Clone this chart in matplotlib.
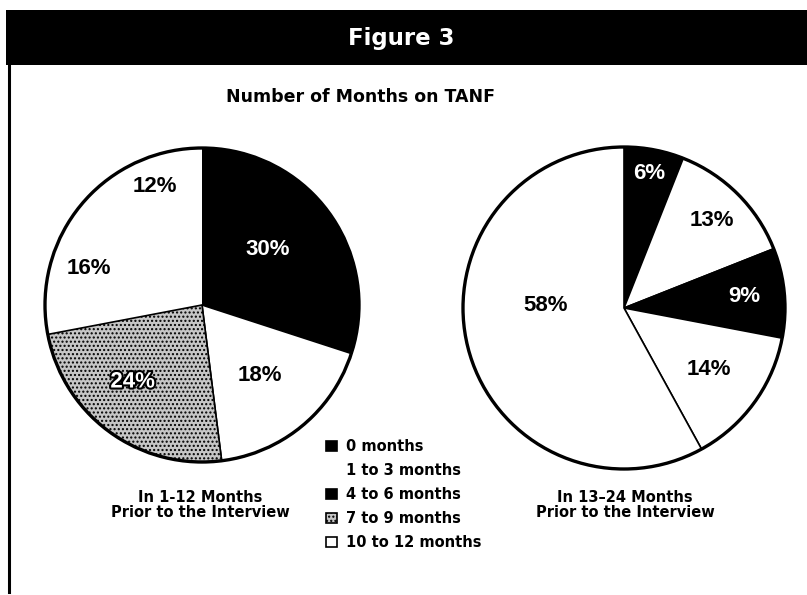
import matplotlib
matplotlib.use('Agg')
import matplotlib.pyplot as plt
from matplotlib.patches import Patch, Circle, Rectangle
from matplotlib.lines import Line2D
from matplotlib import font_manager
import matplotlib.patheffects as pe
import numpy as np

# ---------------- data ----------------
categories = ['0 months', '1 to 3 months', '4 to 6 months', '7 to 9 months', '10 to 12 months']
left_values = [30, 18, 24, 16, 12]
right_values = [6, 13, 9, 14, 58]
left_labels = ['30%', '18%', '24%', '16%', '12%']
right_labels = ['6%', '13%', '9%', '14%', '58%']
left_caption = 'In 1-12 Months\nPrior to the Interview'
right_caption = 'In 13\u201324 Months\nPrior to the Interview'
fig_title = 'Figure 3'
chart_title = 'Number of Months on TANF'

# ---------------- fonts ----------------
names = {f.name for f in font_manager.fontManager.ttflist}
narrow = 'Liberation Sans Narrow' if 'Liberation Sans Narrow' in names else 'DejaVu Sans'
plain = 'Liberation Sans'

W, H = 807, 595
fig = plt.figure(figsize=(W / 100, H / 100), dpi=100)
ax = fig.add_axes([0, 0, 1, 1])

def Y(y):
    return H - y

GRAY = '#c6c6c6'

# ---------------- pies ----------------
left_face = ['black', 'white', GRAY, 'white', 'white']
left_hatch = [None, None, '....', None, None]
left_tcol = ['white', 'black', 'white', 'black', 'black']
left_outline = [False, False, True, False, False]
left_dist = [0.55, 0.58, 0.66, 0.76, 0.81]
left_off = [4, 0, -6, 0, 0]

right_face = ['black', 'white', 'black', 'white', 'white']
right_hatch = [None, None, None, None, None]
right_tcol = ['white', 'black', 'white', 'black', 'black']
right_outline = [False] * 5
right_dist = [0.85, 0.77, 0.75, 0.65, 0.49]
right_off = [0, 0, 0, 0, -16]

def draw_pie(values, labels, face, hatch, tcol, outline, dist, off, cx, cy, r, hide_edges):
    wedges, _ = ax.pie(values, colors=face, startangle=90, counterclock=False,
                       center=(cx, Y(cy)), radius=r,
                       wedgeprops=dict(linewidth=1.2, edgecolor='black'))
    for i, w in enumerate(wedges):
        if hatch[i]:
            w.set_hatch(hatch[i])
            w.set_zorder(3)
        if i in hide_edges:
            w.set_edgecolor('none')
        ang = np.deg2rad((w.theta1 + w.theta2) / 2 + off[i])
        tx = cx + dist[i] * r * np.cos(ang)
        ty = Y(cy) + dist[i] * r * np.sin(ang)
        t = ax.text(tx, ty, labels[i], color=tcol[i], fontsize=16, fontweight='bold',
                    family=plain, ha='center', va='center', zorder=6)
        if outline[i]:
            t.set_path_effects([pe.withStroke(linewidth=3, foreground='black')])
    ax.add_patch(Circle((cx, Y(cy)), r, fill=False, lw=2.4, ec='black', zorder=5))

draw_pie(left_values, left_labels, left_face, left_hatch, left_tcol, left_outline,
         left_dist, left_off, 202, 305, 157, hide_edges=[3, 4])
draw_pie(right_values, right_labels, right_face, right_hatch, right_tcol, right_outline,
         right_dist, right_off, 624, 308, 161, hide_edges=[])

ax.set_xlim(0, W)
ax.set_ylim(0, H)
ax.axis('off')

# ---------------- header ----------------
ax.add_patch(Rectangle((6, Y(65)), W - 6, 55, fc='black', ec='none', zorder=1))
ax.text(401, Y(38), fig_title, color='white', fontsize=16.5, fontweight='bold',
        family=narrow, ha='center', va='center')
ax.text(361, Y(97), chart_title, color='black', fontsize=12.5, fontweight='bold',
        family=narrow, ha='center', va='center')
ax.add_line(Line2D([9, 9], [Y(64), Y(592)], color='black', lw=2.2))

# ---------------- captions ----------------
ax.text(200, Y(505), left_caption, fontsize=10.5, fontweight='bold', family=narrow,
        ha='center', va='center', linespacing=1.0)
ax.text(625, Y(505), right_caption, fontsize=10.5, fontweight='bold', family=narrow,
        ha='center', va='center', linespacing=1.0)

# ---------------- legend ----------------
leg_face = ['black', 'white', 'black', GRAY, 'white']
leg_edge = ['black', 'none', 'black', 'black', 'black']
leg_hatch = [None, None, None, '....', None]
handles = [Patch(facecolor=leg_face[i], edgecolor=leg_edge[i], hatch=leg_hatch[i],
                 linewidth=1.2, label=categories[i]) for i in range(len(categories))]
leg = ax.legend(handles=handles, loc='upper left', bbox_to_anchor=(326 / W, 1 - 439 / H),
                frameon=False, handlelength=0.75, handleheight=0.75, handletextpad=0.6,
                labelspacing=0.62, borderpad=0, borderaxespad=0,
                prop=dict(family=narrow, weight='bold', size=10.5))

fig.savefig('out.png', dpi=100)
